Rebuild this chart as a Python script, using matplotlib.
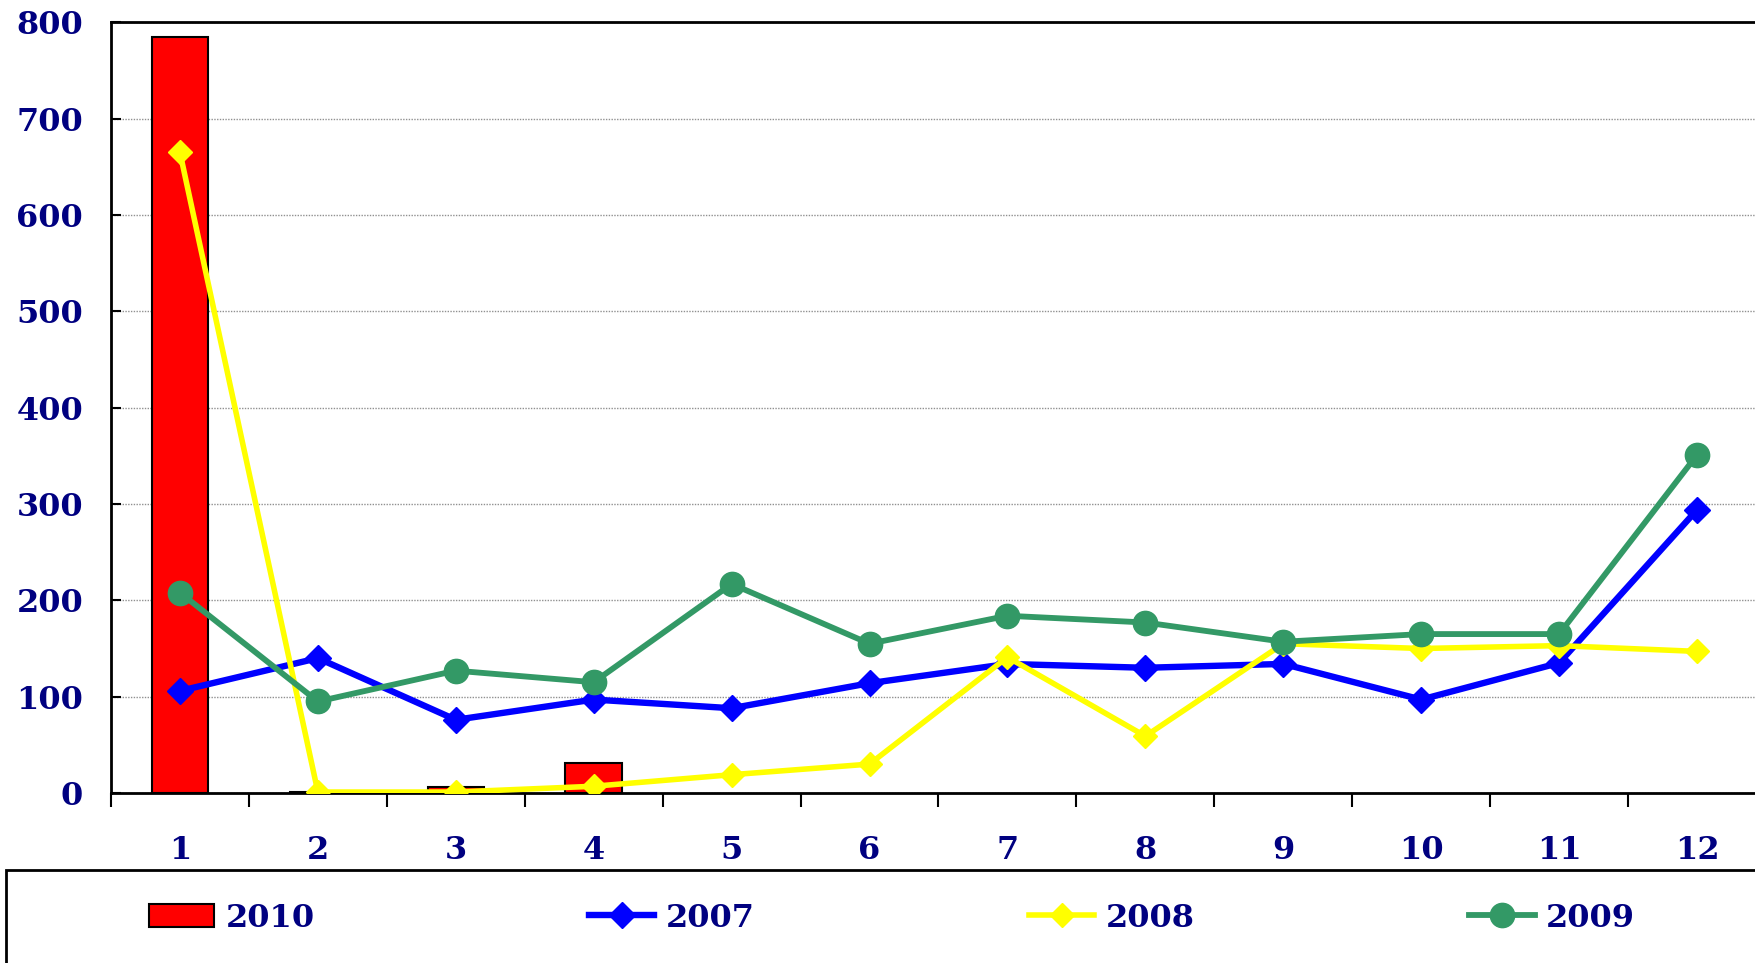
import numpy as np
import matplotlib
matplotlib.use("Agg")
import matplotlib.pyplot as plt
from matplotlib.patches import Rectangle

months = [1, 2, 3, 4, 5, 6, 7, 8, 9, 10, 11, 12]
month_labels = ["1", "2", "3", "4", "5", "6", "7", "8", "9", "10", "11", "12"]
s2010 = [785, 1.5, 6, 31, np.nan, np.nan, np.nan, np.nan, np.nan, np.nan, np.nan, np.nan]
s2007 = [106, 140, 76, 97, 88, 114, 134, 130, 134, 97, 135, 294]
s2008 = [665, 1, 1, 7, 19, 30, 141, 59, 155, 150, 153, 147]
s2009 = [208, 95, 127, 115, 217, 155, 184, 177, 157, 165, 165, 351]
yticks = [0, 100, 200, 300, 400, 500, 600, 700, 800]

navy = "#000080"
FS = 23
font = dict(family="DejaVu Serif", weight="bold", color=navy, size=FS)

fig = plt.figure(figsize=(17.56, 9.63), dpi=100)
W, H = 1756, 963
left, right, top, bottom = 111, 1766, 22.4, 793
ax = fig.add_axes([left / W, 1 - bottom / H, (right - left) / W, (bottom - top) / H])

ax.bar(months, s2010, width=0.41, color="#ff0000", edgecolor="black", linewidth=1.5,
       label="2010", zorder=2)
ax.plot(months, s2007, color="#0000ff", lw=4.6, marker="D", ms=13.5, label="2007", zorder=3)
ax.plot(months, s2008, color="#ffff00", lw=4.0, marker="D", ms=12, label="2008", zorder=4)
ax.plot(months, s2009, color="#339966", lw=4.2, marker="o", ms=17.5, label="2009", zorder=5)

ax.set_xlim(0.5, 12.5)
ax.set_ylim(0, 800)
ax.set_yticks(yticks)
ax.set_yticklabels([str(v) for v in yticks], fontdict=font)
ax.yaxis.grid(True, linestyle=(0, (1, 1)), color="#909090", lw=1.0, zorder=0)
ax.set_axisbelow(True)

ax.set_xticks(np.arange(0.5, 13.0, 1.0))
ax.set_xticklabels([])
ax.set_xticks(months, minor=True)
ax.set_xticklabels(month_labels, minor=True, fontdict=font)
ax.tick_params(axis="x", which="major", direction="out", length=10, width=1.5, color="black")
ax.tick_params(axis="x", which="minor", length=0, pad=30)
ax.tick_params(axis="y", direction="in", length=7, width=1.5, pad=20)

for sp in ["left", "bottom", "top"]:
    ax.spines[sp].set_linewidth(2)
    ax.spines[sp].set_color("black")
ax.spines["right"].set_visible(False)

# legend frame
fig.patches.append(Rectangle((5.6 / W, -0.2), 1.2, 0.2 + (1 - 870 / H), transform=fig.transFigure,
                             fill=False, edgecolor="black", lw=2))

handles, labels = ax.get_legend_handles_labels()
order = [labels.index(l) for l in ["2010", "2007", "2008", "2009"]]
leg = fig.legend([handles[i] for i in order], [labels[i] for i in order],
                 loc="center left", bbox_to_anchor=(149 / W, 1 - 918 / H), ncol=4,
                 frameon=False, borderpad=0, borderaxespad=0,
                 handlelength=2.04, handletextpad=0.35, columnspacing=8.6,
                 prop=dict(family="DejaVu Serif", weight="bold", size=FS))
for t in leg.get_texts():
    t.set_color(navy)

fig.savefig("out.png", dpi=100)
